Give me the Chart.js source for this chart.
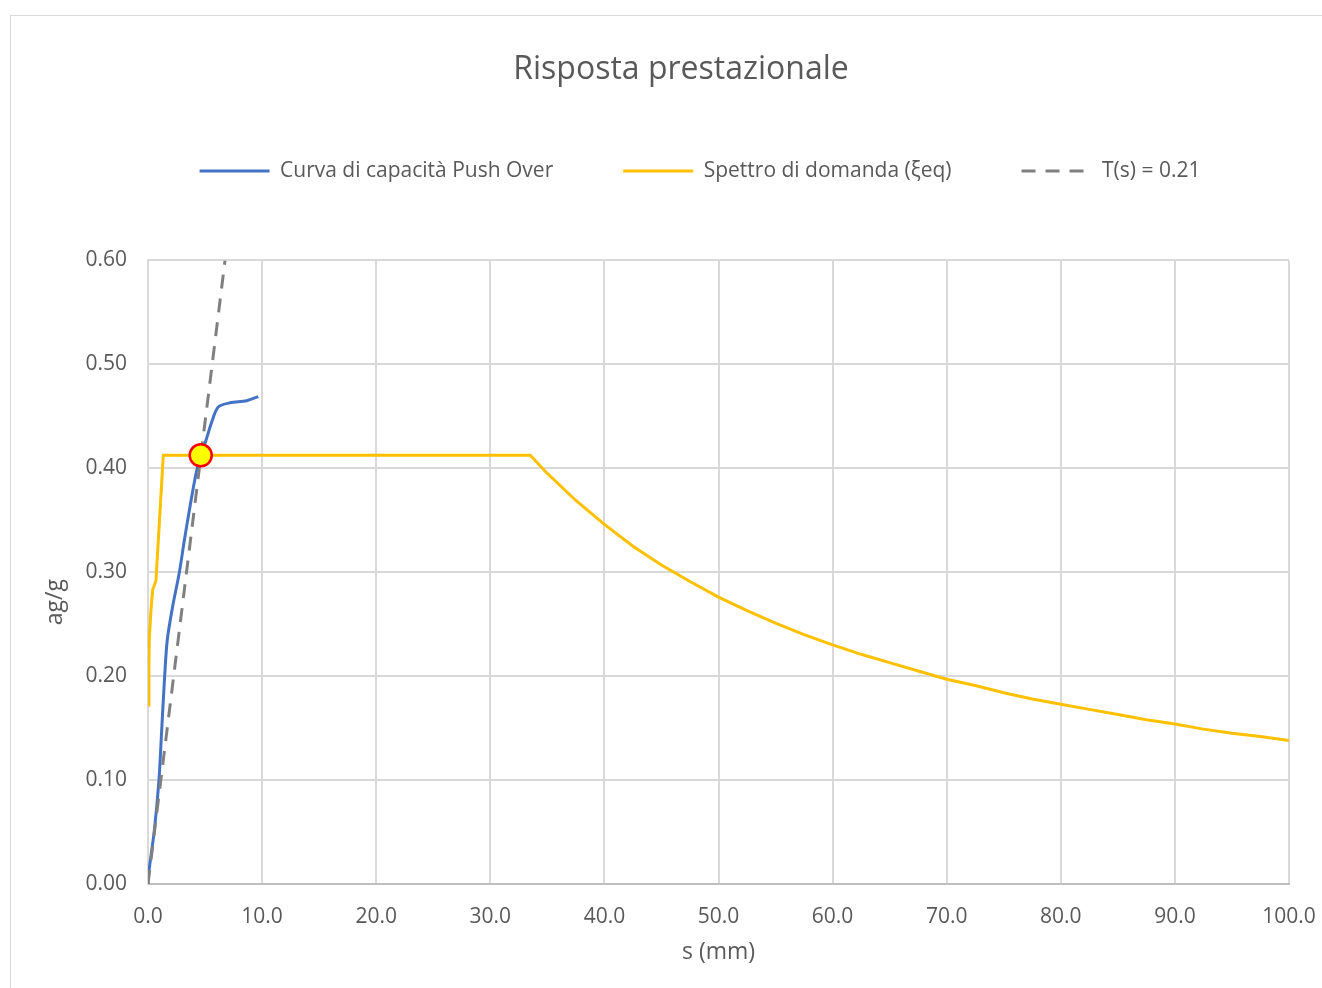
<!DOCTYPE html>
<html>
<head>
<meta charset="utf-8">
<script src="https://cdn.jsdelivr.net/npm/chart.js@4"></script>
<style>
  body { margin: 0; background: #fff; overflow: hidden; }
  #frame { position: absolute; left: 10px; top: 15px; width: 1400px; height: 1000px; border: 1px solid #d9d9d9; }
  #wrap { position: absolute; left: 0; top: 0; width: 1322px; height: 988px; }
</style>
</head>
<body>
<div id="frame"></div>
<div id="wrap"><canvas id="pushChart" width="1322" height="988"></canvas></div>
<script>
// curva push over: spostamento (mm), accelerazione (ag/g)
const pushS = [0.0, 0.09, 0.56, 0.96, 1.2, 1.46, 1.69, 2.16, 2.75, 3.19, 3.68, 4.21, 4.62, 5.0, 5.6, 6.16, 7.19, 8.65, 9.67];
const pushA = [0.0, 0.013, 0.052, 0.100, 0.148, 0.200, 0.235, 0.267, 0.300, 0.331, 0.363, 0.395, 0.4125, 0.424, 0.445, 0.459, 0.463, 0.465, 0.469];

// spettro di domanda in formato ADRS
const specS = [0.05, 0.08, 0.11, 0.25, 0.41, 0.70, 1.34, 33.5, 35.0, 37.5, 40.0, 42.5, 45.0, 47.5, 50.0, 52.5, 55.0, 57.5, 60.0, 62.5, 65.0, 67.5, 70.0, 72.5, 75.0, 77.5, 80.0, 82.5, 85.0, 87.5, 90.0, 92.5, 95.0, 97.5, 100.0];
const specA = [0.172, 0.210, 0.235, 0.262, 0.283, 0.292, 0.4125, 0.4125, 0.395, 0.369, 0.346, 0.325, 0.307, 0.291, 0.276, 0.263, 0.251, 0.240, 0.230, 0.221, 0.213, 0.205, 0.197, 0.191, 0.184, 0.178, 0.173, 0.168, 0.163, 0.158, 0.154, 0.149, 0.145, 0.142, 0.138];

// retta del periodo T(s) = 0.21
const periodS = [0.0, 6.75];
const periodA = [0.0, 0.60];

// punto di prestazione
const perfS = [4.62];
const perfA = [0.4125];

const xTicks = ['0.0', '10.0', '20.0', '30.0', '40.0', '50.0', '60.0', '70.0', '80.0', '90.0', '100.0'];
const yTicks = ['0.00', '0.10', '0.20', '0.30', '0.40', '0.50', '0.60'];

const makeXY = (xs, ys) => xs.map((x, i) => ({x: x, y: ys[i]}));

const FONT = 'Open Sans';
const GREY = '#595959';

// spazio tra legenda e area del grafico, legenda un po' spostata a destra
const legendSpace = {
    id: 'legendSpace',
    beforeInit(chart) {
        const fit = chart.legend.fit;
        chart.legend.fit = function () {
            fit.bind(chart.legend)();
            this.height += 69;
        };
    },
    afterLayout(chart) {
        chart.legend.left += 38;
    }
};

// legenda a linee, con il tratteggio della serie
const legendLines = (chart) => {
    const items = Chart.defaults.plugins.legend.labels.generateLabels(chart);
    return items.map(item => {
        const ds = chart.data.datasets[item.datasetIndex];
        item.lineDash = ds.borderDash || [];
        item.lineWidth = 3;
        item.strokeStyle = ds.borderColor;
        return item;
    });
};

const pushGraph = () => {
    const ctx = document.getElementById('pushChart');

    const data = {
        datasets: [{
            label: 'Curva di capacità Push Over',
            data: makeXY(pushS, pushA),
            showLine: true,
            borderColor: '#4472c4',
            backgroundColor: '#4472c4',
            borderWidth: 3,
            pointRadius: 0,
            tension: 0.3,
            order: 2
        }, {
            label: 'Spettro di domanda (ξeq)',
            data: makeXY(specS, specA),
            showLine: true,
            borderColor: '#ffc000',
            backgroundColor: '#ffc000',
            borderWidth: 3,
            pointRadius: 0,
            order: 3
        }, {
            label: 'T(s) = 0.21',
            data: makeXY(periodS, periodA),
            showLine: true,
            borderColor: '#808080',
            backgroundColor: '#808080',
            borderWidth: 3,
            borderDash: [14, 10],
            pointRadius: 0,
            order: 1
        }, {
            label: 'perf',
            data: makeXY(perfS, perfA),
            showLine: false,
            pointRadius: 11,
            pointBorderWidth: 2.5,
            pointBackgroundColor: '#ffff00',
            pointBorderColor: '#ff0000',
            order: 0
        }]
    };

    new Chart(ctx, {
        type: 'scatter',
        data: data,
        plugins: [legendSpace],
        options: {
            responsive: false,
            animation: false,
            devicePixelRatio: 1,
            layout: {
                padding: {left: 40, right: 0, top: 0, bottom: 18}
            },
            plugins: {
                title: {
                    display: true,
                    text: 'Risposta prestazionale',
                    color: GREY,
                    font: {family: FONT, size: 32, weight: 'normal'},
                    padding: {top: 51, bottom: 1}
                },
                legend: {
                    position: 'top',
                    labels: {
                        color: GREY,
                        font: {family: FONT, size: 21},
                        usePointStyle: true,
                        pointStyle: 'line',
                        pointStyleWidth: 70,
                        padding: 70,
                        generateLabels: legendLines,
                        sort: (a, b) => a.datasetIndex - b.datasetIndex,
                        filter: item => item.text !== 'perf'
                    }
                },
                tooltip: {enabled: false}
            },
            scales: {
                x: {
                    type: 'linear',
                    position: 'bottom',
                    min: 0,
                    max: 100,
                    afterFit: scale => {
                        scale.height = 86;
                        scale.paddingRight = 33;
                    },
                    ticks: {
                        stepSize: 10,
                        padding: 20,
                        maxRotation: 0,
                        color: GREY,
                        font: {family: FONT, size: 21},
                        callback: (v, i) => xTicks[i]
                    },
                    grid: {color: '#d9d9d9', lineWidth: 2, drawTicks: false},
                    border: {color: '#bfbfbf', width: 2},
                    title: {
                        display: true,
                        text: 's (mm)',
                        color: GREY,
                        font: {family: FONT, size: 23},
                        padding: {top: 4, bottom: 4}
                    }
                },
                y: {
                    min: 0,
                    max: 0.6,
                    afterFit: scale => { scale.width = 108; },
                    ticks: {
                        stepSize: 0.1,
                        padding: 21,
                        color: GREY,
                        font: {family: FONT, size: 21},
                        callback: (v, i) => yTicks[i]
                    },
                    grid: {color: '#d9d9d9', lineWidth: 2, drawTicks: false},
                    border: {color: '#d9d9d9', width: 2},
                    title: {
                        display: true,
                        // spazi finali: il titolo resta un po' sotto il centro dell'asse
                        text: 'ag/g          ',
                        color: GREY,
                        font: {family: FONT, size: 23},
                        padding: {top: 2, bottom: 4}
                    }
                }
            }
        }
    });
};

pushGraph();
</script>
</body>
</html>
